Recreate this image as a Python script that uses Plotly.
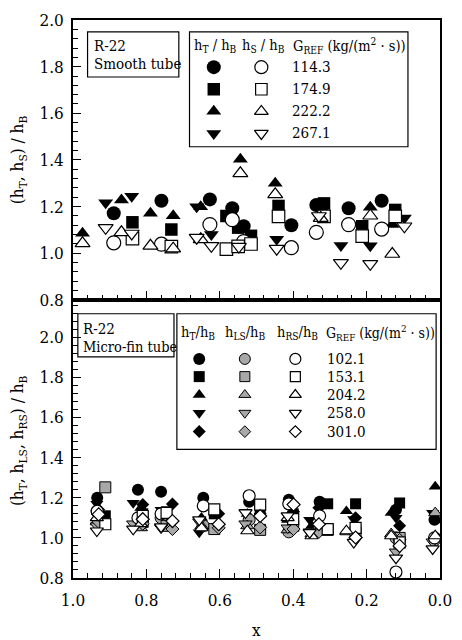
import plotly.graph_objects as go

# ---------------- DATA ----------------
# Top panel: smooth tube, R-22
top_G = ["114.3", "174.9", "222.2", "267.1"]
top_x_114 = [0.889, 0.759, 0.627, 0.566, 0.535, 0.405, 0.337, 0.249, 0.159]
top_hT_114 = [1.172, 1.225, 1.231, 1.193, 1.116, 1.120, 1.207, 1.193, 1.225]
top_hS_114 = [1.045, 1.039, 1.123, 1.144, 1.050, 1.024, 1.090, 1.123, 1.104]

top_x_175 = [0.838, 0.732, 0.582, 0.550, 0.515, 0.440, 0.316, 0.212, 0.122]
top_hT_175 = [1.133, 1.102, 1.160, 1.110, 1.075, 1.203, 1.214, 1.116, 1.186]
top_hS_175 = [1.063, 1.029, 1.018, 1.030, 1.040, 1.158, 1.158, 1.074, 1.158]

top_x_222 = [0.974, 0.868, 0.789, 0.727, 0.652, 0.544, 0.449, 0.325, 0.190, 0.130]
top_hT_222 = [1.086, 1.228, 1.172, 1.161, 1.200, 1.403, 1.300, 1.200, 1.197, 1.123]
top_hS_222 = [1.043, 1.090, 1.032, 1.020, 1.060, 1.343, 1.253, 1.151, 1.161, 0.997]

top_x_267 = [0.911, 0.840, 0.663, 0.623, 0.548, 0.445, 0.330, 0.270, 0.190, 0.097]
top_hT_267 = [1.217, 1.245, 1.200, 1.081, 1.110, 1.060, 1.190, 1.034, 1.032, 1.151]
top_hS_267 = [1.109, 1.085, 1.067, 1.032, 1.029, 1.020, 1.160, 0.959, 0.955, 1.116]

# Bottom panel: micro-fin tube, R-22
bot_G = ["102.1", "153.1", "204.2", "258.0", "301.0"]
bot_x_102 = [0.934, 0.823, 0.760, 0.645, 0.520, 0.412, 0.328, 0.120, 0.015]
bot_hT_102 = [1.200, 1.240, 1.230, 1.200, 1.180, 1.190, 1.180, 1.140, 1.090]
bot_hLS_102 = [1.130, 1.070, 1.100, 1.060, 1.090, 1.030, 1.050, 1.000, 0.990]
bot_hRS_102 = [1.133, 1.100, 1.120, 1.160, 1.210, 1.170, 1.110, 0.830, 1.000]

bot_x_153 = [0.912, 0.810, 0.745, 0.615, 0.490, 0.400, 0.306, 0.230, 0.110]
bot_hT_153 = [1.110, 1.120, 1.130, 1.120, 1.140, 1.120, 1.170, 1.170, 1.174]
bot_hLS_153 = [1.252, 1.080, 1.060, 1.044, 1.040, 1.060, 1.040, 1.030, 1.000]
bot_hRS_153 = [1.068, 1.109, 1.125, 1.142, 1.166, 1.093, 1.044, 1.050, 0.978]

bot_x_204 = [0.935, 0.815, 0.650, 0.525, 0.415, 0.350, 0.255, 0.133, 0.013]
bot_hT_204 = [1.150, 1.150, 1.100, 1.120, 1.090, 1.060, 1.133, 1.125, 1.256]
bot_hLS_204 = [1.080, 1.050, 1.060, 1.060, 1.040, 1.020, 1.030, 1.020, 1.125]
bot_hRS_204 = [1.100, 1.070, 1.050, 1.035, 1.100, 1.010, 1.035, 1.010, 1.010]

bot_x_258 = [0.935, 0.836, 0.760, 0.656, 0.530, 0.415, 0.355, 0.235, 0.120, 0.020]
bot_hT_258 = [1.170, 1.174, 1.140, 1.027, 1.130, 1.110, 1.090, 1.093, 1.100, 1.125]
bot_hLS_258 = [1.060, 1.070, 1.050, 1.080, 1.070, 1.050, 1.030, 1.020, 0.930, 0.980]
bot_hRS_258 = [1.035, 1.044, 1.055, 1.090, 1.125, 1.110, 1.027, 0.978, 0.900, 0.946]

bot_x_301 = [0.930, 0.810, 0.729, 0.603, 0.490, 0.399, 0.330, 0.230, 0.110]
bot_hT_301 = [1.140, 1.166, 1.169, 1.120, 1.120, 1.130, 1.150, 1.100, 1.060]
bot_hLS_301 = [1.080, 1.070, 1.044, 1.050, 1.052, 1.044, 1.030, 1.000, 0.990]
bot_hRS_301 = [1.117, 1.093, 1.084, 1.068, 1.109, 1.166, 1.068, 1.002, 0.960]

x_ticks = [1.0, 0.8, 0.6, 0.4, 0.2, 0.0]
y_ticks = [0.8, 1.0, 1.2, 1.4, 1.6, 1.8, 2.0]

# ---------------- LAYOUT GEOMETRY (pixels) ----------------
W, H = 462, 640
PL, PR, PT, PB, PS = 73, 451, 10, 578, 295   # plot left/right/top/bottom, panel split
TOP_RANGE = [0.8, 2.0]
BOT_RANGE = [0.8, 2.186]
FONT = "DejaVu Serif Condensed, DejaVu Serif"


def xp(px):  # pixel -> paper x
    return (px - PL) / (PR - PL)


def yp(py):  # pixel -> paper y
    return (PB - py) / (PB - PT)


def xd(px):  # pixel -> data x (reversed axis)
    return 1.0 - (px - PL) / (PR - PL)


def yd_top(py):
    return TOP_RANGE[1] - (py - PT) / (PS - PT) * (TOP_RANGE[1] - TOP_RANGE[0])


def yd_bot(py):
    return BOT_RANGE[0] + (PB - py) / (PB - PS) * (BOT_RANGE[1] - BOT_RANGE[0])


fig = go.Figure()

FILLED = dict(color="black", line=dict(color="black", width=0))
OPEN = dict(color="white", line=dict(color="black", width=1.2))
HATCH = dict(color="#a8a8a8", line=dict(color="black", width=1.0))

sym = ["circle", "square", "triangle-up", "triangle-down", "diamond"]
size_top = {"circle": 14, "square": 12.5, "triangle-up": 13, "triangle-down": 13, "diamond": 10}
size_bot = {"circle": 12, "square": 11, "triangle-up": 11.5, "triangle-down": 11.5, "diamond": 10}

top_series = [
    (top_x_114, top_hT_114, top_hS_114),
    (top_x_175, top_hT_175, top_hS_175),
    (top_x_222, top_hT_222, top_hS_222),
    (top_x_267, top_hT_267, top_hS_267),
]
bot_series = [
    (bot_x_102, bot_hT_102, bot_hLS_102, bot_hRS_102),
    (bot_x_153, bot_hT_153, bot_hLS_153, bot_hRS_153),
    (bot_x_204, bot_hT_204, bot_hLS_204, bot_hRS_204),
    (bot_x_258, bot_hT_258, bot_hLS_258, bot_hRS_258),
    (bot_x_301, bot_hT_301, bot_hLS_301, bot_hRS_301),
]


def add_pts(x, y, symbol, style, size, xa, ya):
    fig.add_trace(go.Scatter(
        x=x, y=y, mode="markers", xaxis=xa, yaxis=ya, showlegend=False,
        hoverinfo="skip",
        marker=dict(symbol=symbol, size=size, color=style["color"], line=style["line"]),
    ))


for i, (xs, hT, hS) in enumerate(top_series):
    add_pts(xs, hT, sym[i], FILLED, size_top[sym[i]], "x2", "y2")
for i, (xs, hT, hS) in enumerate(top_series):
    add_pts(xs, hS, sym[i], OPEN, size_top[sym[i]], "x2", "y2")

for i, (xs, hT, hLS, hRS) in enumerate(bot_series):
    add_pts(xs, hT, sym[i], FILLED, size_bot[sym[i]], "x", "y")
for i, (xs, hT, hLS, hRS) in enumerate(bot_series):
    add_pts(xs, hLS, sym[i], HATCH, size_bot[sym[i]], "x", "y")
for i, (xs, hT, hLS, hRS) in enumerate(bot_series):
    add_pts(xs, hRS, sym[i], OPEN, size_bot[sym[i]], "x", "y")

top_rows_py = [58, 80.5, 103, 125.5]
for i, g in enumerate(top_G):
    yy = yd_top(top_rows_py[i])
    add_pts([xd(218)], [yy], sym[i], FILLED, size_top[sym[i]], "x2", "y2")
    add_pts([xd(267)], [yy], sym[i], OPEN, size_top[sym[i]] - 1, "x2", "y2")

bot_rows_py = [355, 373, 391.5, 410, 429]
for i, g in enumerate(bot_G):
    yy = yd_bot(bot_rows_py[i])
    add_pts([xd(203)], [yy], sym[i], FILLED, size_bot[sym[i]], "x", "y")
    add_pts([xd(250)], [yy], sym[i], HATCH, size_bot[sym[i]] - 1, "x", "y")
    add_pts([xd(302)], [yy], sym[i], OPEN, size_bot[sym[i]] - 1, "x", "y")

shapes = []
annotations = []


def box(x0, y0, x1, y1):
    shapes.append(dict(type="rect", xref="paper", yref="paper",
                       x0=xp(x0), x1=xp(x1), y0=yp(y1), y1=yp(y0),
                       line=dict(color="black", width=1.2), fillcolor="rgba(0,0,0,0)"))


def text(px, py, s, anchor="left", size=15):
    annotations.append(dict(xref="paper", yref="paper", x=xp(px), y=yp(py), text=s,
                            showarrow=False, xanchor=anchor, yanchor="middle",
                            font=dict(family=FONT, size=size, color="black")))


box(88, 22, 182, 68)
text(93, 36, "R-22")
text(93, 55, "Smooth tube")
box(193, 22, 418, 139)
text(220, 36, "h<sub>T</sub> / h<sub>B</sub>", "center", 14.5)
text(269, 36, "h<sub>S</sub> / h<sub>B</sub>", "center", 14.5)
text(358, 36, "G<sub>REF</sub> (kg/(m<sup>2</sup> · s))", "center", 14.5)
for i, g in enumerate(top_G):
    text(297, top_rows_py[i], g)

box(78, 309, 177, 353)
text(81, 325, "R-22")
text(81, 343, "Micro-fin tube", size=14.5)
box(180, 309, 447, 447)
text(202, 329, "h<sub>T</sub>/h<sub>B</sub>", "center", 14.5)
text(251, 329, "h<sub>LS</sub>/h<sub>B</sub>", "center", 14.5)
text(304, 329, "h<sub>RS</sub>/h<sub>B</sub>", "center", 14.5)
text(390, 329, "G<sub>REF</sub> (kg/(m<sup>2</sup> · s))", "center", 14)
for i, g in enumerate(bot_G):
    text(333, bot_rows_py[i], g)

annotations.append(dict(xref="paper", yref="paper", x=xp(17), y=yp(152), textangle=-90,
                        text="(h<sub>T</sub>, h<sub>S</sub>) / h<sub>B</sub>", showarrow=False,
                        xanchor="center", yanchor="middle",
                        font=dict(family=FONT, size=17, color="black")))
annotations.append(dict(xref="paper", yref="paper", x=xp(17), y=yp(438), textangle=-90,
                        text="(h<sub>T</sub>, h<sub>LS</sub>, h<sub>RS</sub>) / h<sub>B</sub>",
                        showarrow=False, xanchor="center", yanchor="middle",
                        font=dict(family=FONT, size=17, color="black")))
annotations.append(dict(xref="paper", yref="paper", x=xp(262), y=yp(631), text="x",
                        showarrow=False, xanchor="center", yanchor="middle",
                        font=dict(family=FONT, size=17, color="black")))

split = (PB - PS) / (PB - PT)
tickfont = dict(family=FONT, size=17, color="black")
common_x = dict(range=[1.0, 0.0], tickvals=x_ticks, tickformat=".1f", ticks="inside",
                ticklen=9, tickwidth=1, tickcolor="black", showline=True, linecolor="black",
                linewidth=1.5, mirror=True, showgrid=False, zeroline=False,
                ticklabeloverflow="allow",
                minor=dict(dtick=0.04, tick0=0, ticks="inside", ticklen=5, tickcolor="black",
                           showgrid=False))

fig.update_layout(
    width=W, height=H,
    margin=dict(l=PL, r=W - PR, t=PT, b=H - PB),
    paper_bgcolor="white", plot_bgcolor="white",
    font=dict(family=FONT, size=15, color="black"),
    xaxis=dict(anchor="y", domain=[0, 1], tickfont=tickfont, showticklabels=True,
               ticklabelstandoff=6, **common_x),
    xaxis2=dict(anchor="y2", domain=[0, 1], matches="x", showticklabels=False, **common_x),
    yaxis=dict(domain=[0, split], range=BOT_RANGE, tickvals=y_ticks, tickformat=".1f",
               ticks="inside", ticklen=8, tickcolor="black", showline=True, linecolor="black",
               linewidth=1.5, mirror=True, showgrid=False, zeroline=False, tickfont=tickfont,
               ticklabelstandoff=4,
               minor=dict(dtick=0.04, tick0=0.8, ticks="inside", ticklen=5, tickcolor="black",
                          showgrid=False)),
    yaxis2=dict(domain=[split, 1], range=TOP_RANGE, tickvals=y_ticks, tickformat=".1f",
                ticks="inside", ticklen=8, tickcolor="black", showline=True, linecolor="black",
                linewidth=1.5, mirror=True, showgrid=False, zeroline=False, tickfont=tickfont,
                ticklabelstandoff=4,
                minor=dict(dtick=0.04, tick0=0.8, ticks="inside", ticklen=5, tickcolor="black",
                           showgrid=False)),
    shapes=shapes,
    annotations=annotations,
)

fig.write_html("out.html")
